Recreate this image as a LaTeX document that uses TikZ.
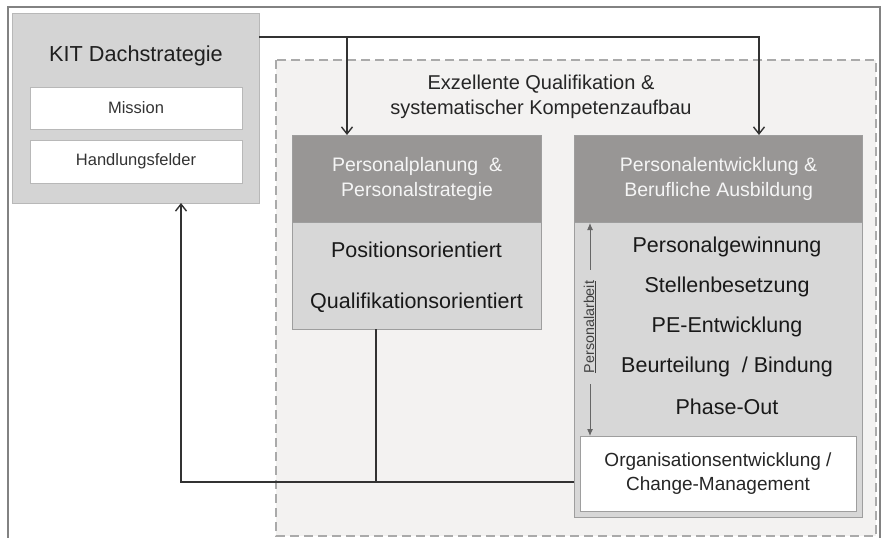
\documentclass[tikz,border=0pt]{standalone}
\usepackage{fontspec}
\setmainfont{Liberation Sans}
\usepackage{xcolor}
\usetikzlibrary{arrows.meta}
\definecolor{kitgray}{RGB}{212,212,212}
\definecolor{kitedge}{RGB}{184,184,184}
\definecolor{zonefill}{RGB}{243,242,241}
\definecolor{zoneedge}{RGB}{170,170,170}
\definecolor{headgray}{RGB}{152,150,149}
\definecolor{bodygray}{RGB}{215,215,215}
\definecolor{boxedge}{RGB}{158,158,158}
\definecolor{linegray}{RGB}{50,50,50}
\definecolor{framegray}{RGB}{130,130,130}

\tikzset{
  panel/.style={draw=boxedge, line width=1.2pt, anchor=north west, inner sep=0pt},
  kitpanel/.style={panel, fill=kitgray, draw=kitedge},
  headpanel/.style={panel, fill=headgray, text=white!96!black, align=center,
    font=\fontsize{19.5}{25}\selectfont},
  bodypanel/.style={panel, fill=bodygray},
  whitepanel/.style={draw=kitedge, line width=1pt, fill=white, inner sep=0pt},
  bodytext/.style={text=black!90, font=\fontsize{21.5}{25}\selectfont},
  smalltext/.style={text=black!80, font=\fontsize{16.5}{20}\selectfont},
  conn/.style={draw=linegray, line width=1.5pt},
  connarrow/.style={conn, -{Straight Barb[length=7pt,width=11pt,line width=1.4pt]}},
}

\begin{document}
\begin{tikzpicture}[x=1pt,y=-1pt]
\useasboundingbox (0,0) rectangle (884,538);

% outer frame, open at the bottom
\draw[framegray, line width=1.5pt] (8,540) -- (8,7) -- (880,7) -- (880,540);

%%%%%%%%%% dashed zone
\draw[draw=zoneedge, fill=zonefill, line width=1.2pt, dash pattern=on 9pt off 5pt] (276,60) rectangle (876,536);
\node[align=center, text=black!85, font=\fontsize{20}{25.5}\selectfont] (zonetitle) at (541,97)
  {Exzellente Qualifikation \&\\systematischer Kompetenzaufbau};

%%%%%%%%%% KIT box
\node[kitpanel, minimum width=247pt, minimum height=190pt] (kit) at (12,13) {};
\node[text=black!88, font=\fontsize{21.7}{25}\selectfont] (kittitle) at (136,56) {KIT Dachstrategie};
\node[whitepanel, smalltext, minimum width=212pt, minimum height=42pt] (mission) at (136,108) {Mission};
\node[whitepanel, smalltext, minimum width=212pt, minimum height=43pt] (felder) at (136,161.5) {Handlungsfelder};

%%%%%%%%%% Personalplanung
\node[headpanel, minimum width=249pt, minimum height=87pt] (pph) at (292,135)
  {Personalplanung \ \&\\Personalstrategie};
\node[bodypanel, minimum width=249pt, minimum height=107pt] (ppb) at (292,222) {};
\node[bodytext] (pos) at (416.5,250) {Positionsorientiert};
\node[bodytext] (quali) at (416.5,303) {Qualifikationsorientiert};

%%%%%%%%%% Personalentwicklung
\node[headpanel, minimum width=288pt, minimum height=87pt] (peh) at (574,135)
  {Personalentwicklung \&\\Berufliche Ausbildung};
\node[bodypanel, minimum width=288pt, minimum height=295pt] (peb) at (574,222) {};
\node[bodytext] (gewinn) at (727,247) {Personalgewinnung};
\node[bodytext] (stellen) at (727,287) {Stellenbesetzung};
\node[bodytext] (pe) at (727,327) {PE-Entwicklung};
\node[bodytext] (beurt) at (727,367) {Beurteilung \ / Bindung};
\node[bodytext] (phase) at (727,407) {Phase-Out};
\node[whitepanel, draw=boxedge, minimum width=276pt, minimum height=75pt, align=center,
  text=black!85, font=\fontsize{19}{23.5}\selectfont] (oe) at (718,473.5)
  {Organisationsentwicklung /\\Change-Management};

% Personalarbeit
\node[rotate=90, inner xsep=11pt, inner ysep=0pt, text=black!75, font=\fontsize{14.3}{16}\selectfont] (parbeit) at (590,327) {\underline{Personalarbeit}};
\coordinate (paup) at (590,223);
\coordinate (padown) at (590,436);
\draw[draw=black!60, line width=1pt, -{Latex[length=7pt,width=6pt]}] (parbeit.east) -- (paup);
\draw[draw=black!60, line width=1pt, -{Latex[length=7pt,width=6pt]}] (parbeit.west) -- (padown);

%%%%%%%%%% connectors
\coordinate (kitout) at (259,37);
\coordinate (ppin) at (347,135);
\coordinate (pein) at (759,135);
\draw[connarrow] (kitout) -| (pein);
\draw[connarrow] (kitout -| ppin) -- (ppin);

\coordinate (ppout) at (376,329);
\coordinate (retpoint) at (376,482);
\coordinate (kitin) at (181,203);
\draw[conn] (ppout) -- (retpoint);
\draw[connarrow] (peb.west |- retpoint) -| (kitin);
\end{tikzpicture}
\end{document}
